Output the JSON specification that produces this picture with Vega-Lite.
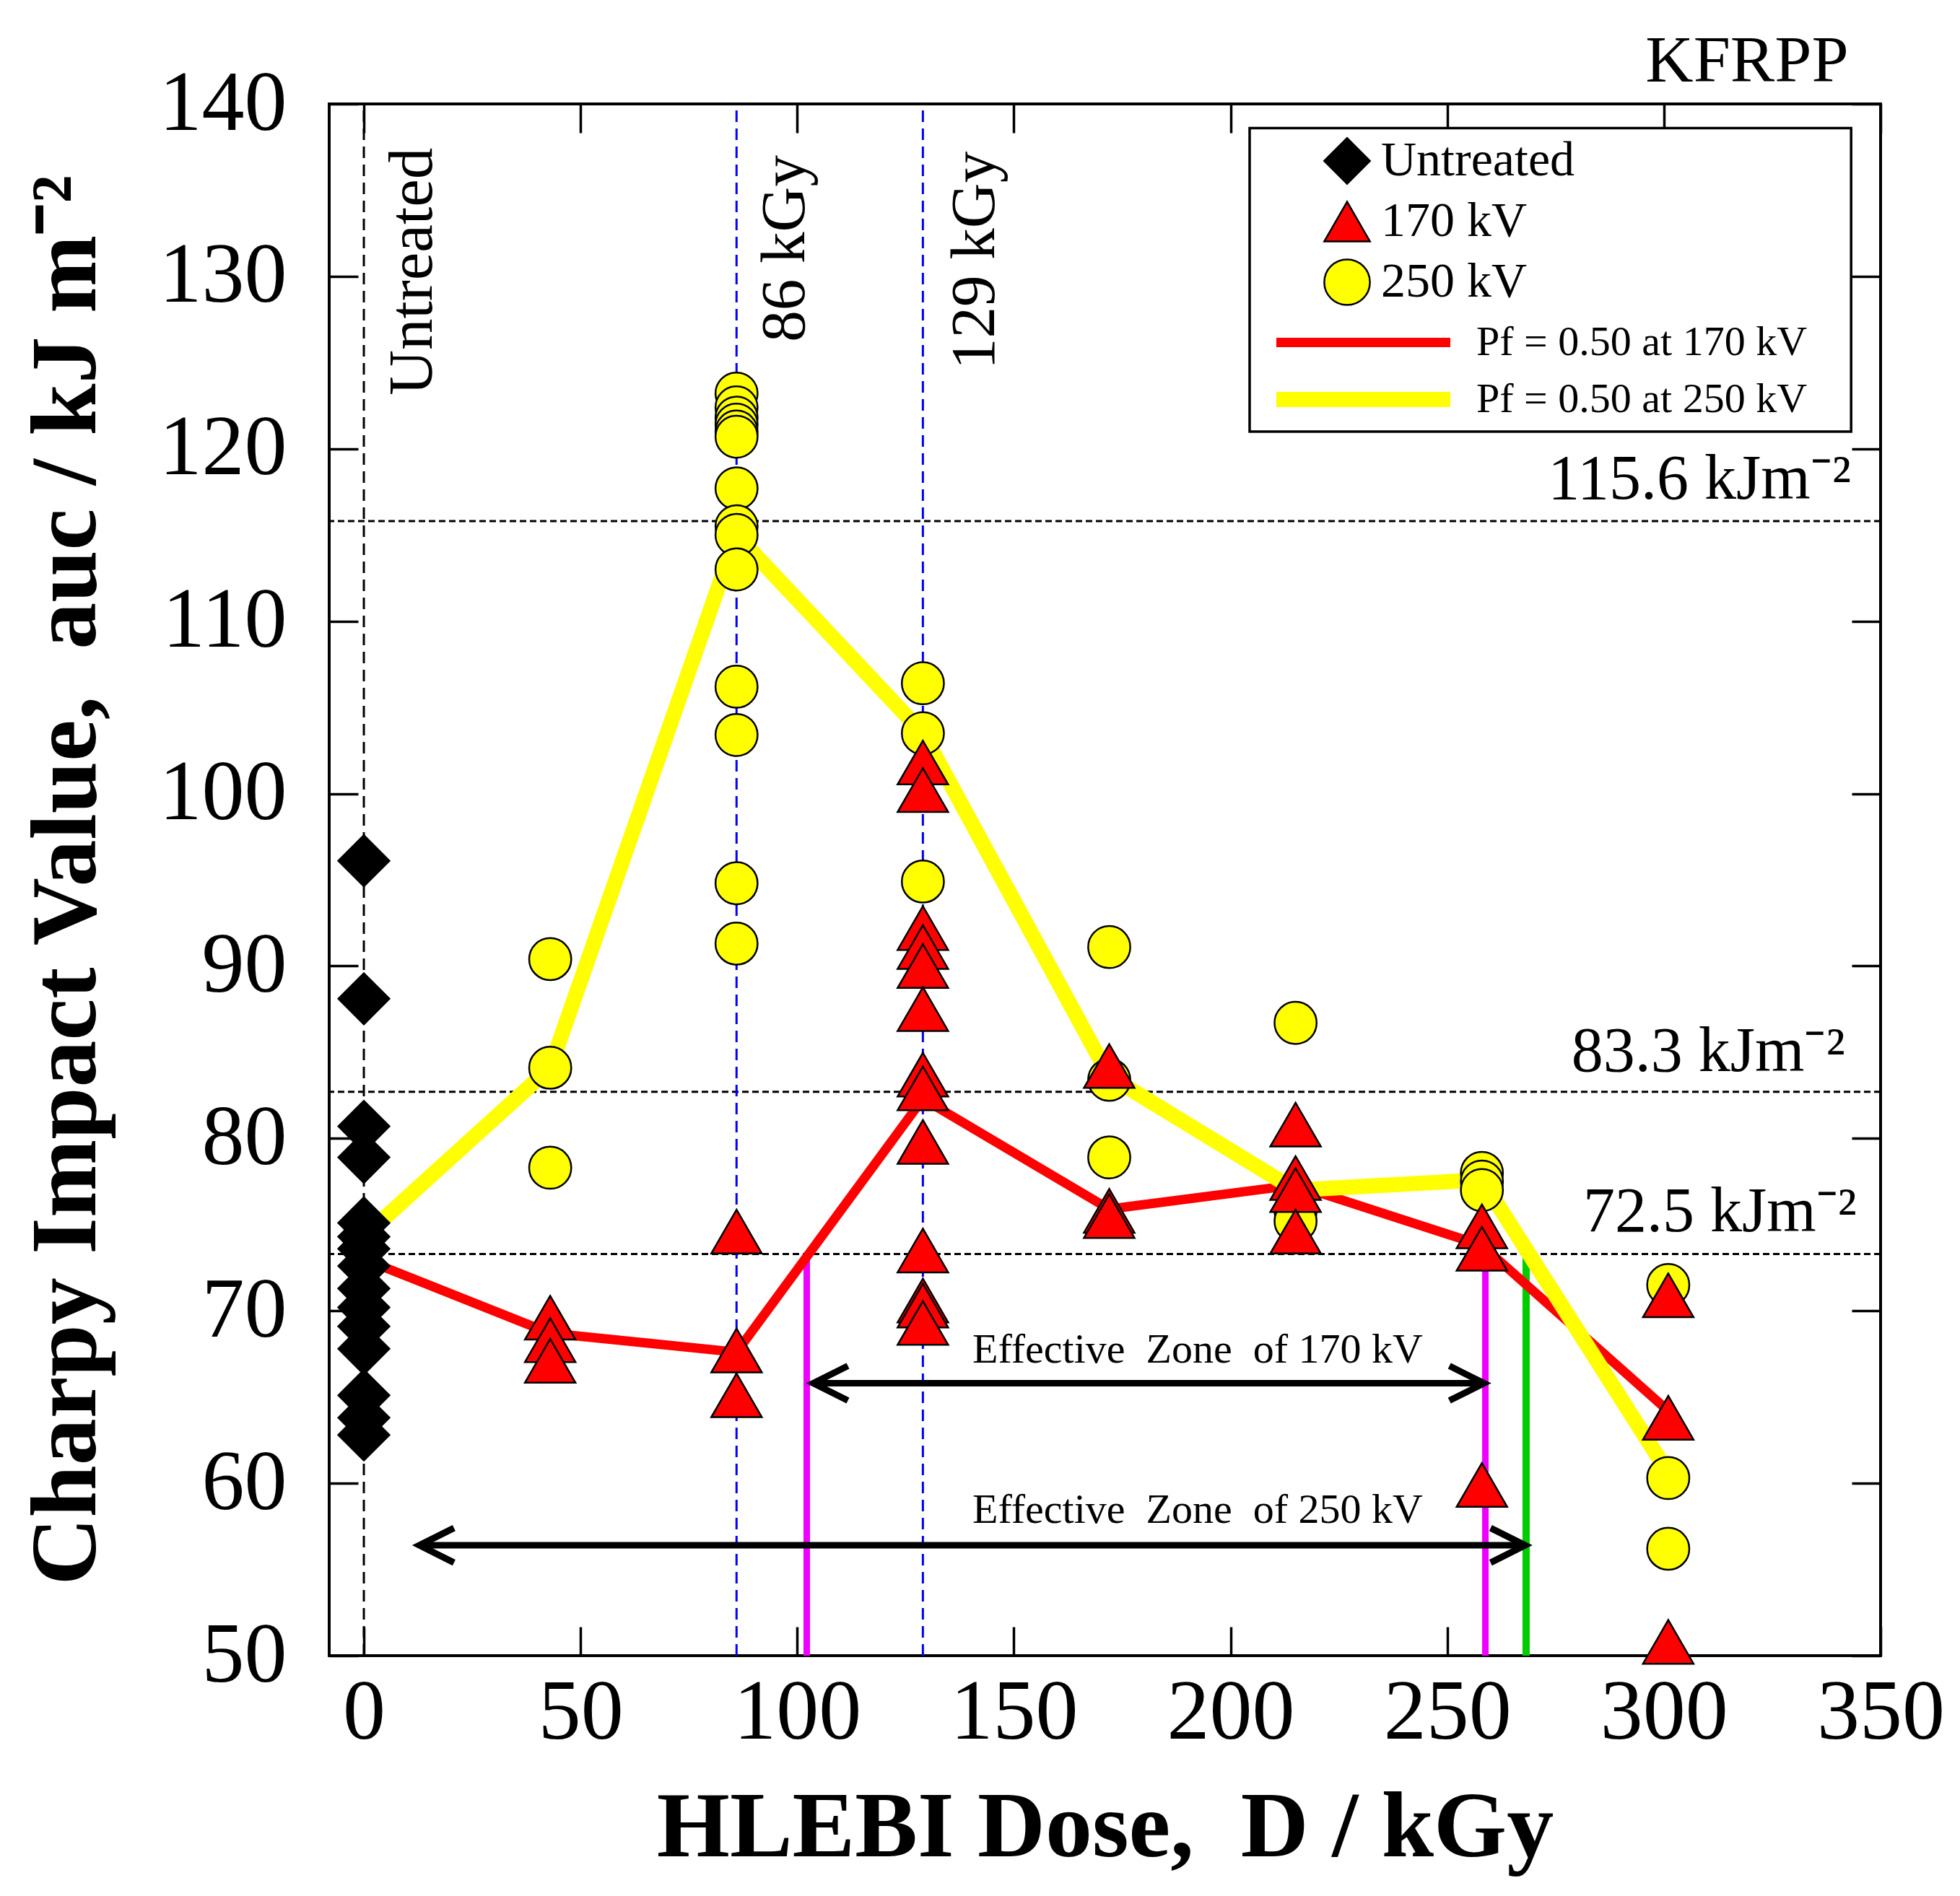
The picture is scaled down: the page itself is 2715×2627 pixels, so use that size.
{
  "$schema": "https://vega.github.io/schema/vega-lite/v6.json",
  "width": 2149,
  "height": 2150,
  "autosize": {"type": "none"},
  "padding": {"left": 456, "top": 144, "right": 110, "bottom": 333},
  "background": "white",
  "datasets": {
    "points": [
      {"dose": 0, "auc": 96.1, "series": "Untreated"},
      {"dose": 0, "auc": 88.1, "series": "Untreated"},
      {"dose": 0, "auc": 80.7, "series": "Untreated"},
      {"dose": 0, "auc": 78.9, "series": "Untreated"},
      {"dose": 0, "auc": 75.1, "series": "Untreated"},
      {"dose": 0, "auc": 74.3, "series": "Untreated"},
      {"dose": 0, "auc": 73.6, "series": "Untreated"},
      {"dose": 0, "auc": 72.6, "series": "Untreated"},
      {"dose": 0, "auc": 71.3, "series": "Untreated"},
      {"dose": 0, "auc": 70.2, "series": "Untreated"},
      {"dose": 0, "auc": 69.1, "series": "Untreated"},
      {"dose": 0, "auc": 67.8, "series": "Untreated"},
      {"dose": 0, "auc": 65.1, "series": "Untreated"},
      {"dose": 0, "auc": 63.8, "series": "Untreated"},
      {"dose": 0, "auc": 62.8, "series": "Untreated"},
      {"dose": 43, "auc": 90.4, "series": "250 kV"},
      {"dose": 43, "auc": 84.1, "series": "250 kV"},
      {"dose": 43, "auc": 78.3, "series": "250 kV"},
      {"dose": 86, "auc": 123.2, "series": "250 kV"},
      {"dose": 86, "auc": 122.4, "series": "250 kV"},
      {"dose": 86, "auc": 121.8, "series": "250 kV"},
      {"dose": 86, "auc": 121.4, "series": "250 kV"},
      {"dose": 86, "auc": 121.0, "series": "250 kV"},
      {"dose": 86, "auc": 120.7, "series": "250 kV"},
      {"dose": 86, "auc": 117.7, "series": "250 kV"},
      {"dose": 86, "auc": 115.5, "series": "250 kV"},
      {"dose": 86, "auc": 115.0, "series": "250 kV"},
      {"dose": 86, "auc": 113.0, "series": "250 kV"},
      {"dose": 86, "auc": 106.2, "series": "250 kV"},
      {"dose": 86, "auc": 103.4, "series": "250 kV"},
      {"dose": 86, "auc": 94.8, "series": "250 kV"},
      {"dose": 86, "auc": 91.3, "series": "250 kV"},
      {"dose": 129, "auc": 106.4, "series": "250 kV"},
      {"dose": 129, "auc": 103.5, "series": "250 kV"},
      {"dose": 129, "auc": 94.9, "series": "250 kV"},
      {"dose": 172, "auc": 91.1, "series": "250 kV"},
      {"dose": 172, "auc": 83.4, "series": "250 kV"},
      {"dose": 172, "auc": 78.9, "series": "250 kV"},
      {"dose": 215, "auc": 86.7, "series": "250 kV"},
      {"dose": 215, "auc": 75.8, "series": "250 kV"},
      {"dose": 215, "auc": 75.2, "series": "250 kV"},
      {"dose": 258, "auc": 78.0, "series": "250 kV"},
      {"dose": 258, "auc": 77.5, "series": "250 kV"},
      {"dose": 258, "auc": 77.0, "series": "250 kV"},
      {"dose": 301, "auc": 71.5, "series": "250 kV"},
      {"dose": 301, "auc": 60.3, "series": "250 kV"},
      {"dose": 301, "auc": 56.2, "series": "250 kV"},
      {"dose": 43, "auc": 69.6, "series": "170 kV"},
      {"dose": 43, "auc": 68.3, "series": "170 kV"},
      {"dose": 43, "auc": 67.1, "series": "170 kV"},
      {"dose": 86, "auc": 74.6, "series": "170 kV"},
      {"dose": 86, "auc": 67.7, "series": "170 kV"},
      {"dose": 86, "auc": 65.1, "series": "170 kV"},
      {"dose": 129, "auc": 101.8, "series": "170 kV"},
      {"dose": 129, "auc": 100.2, "series": "170 kV"},
      {"dose": 129, "auc": 92.2, "series": "170 kV"},
      {"dose": 129, "auc": 91.1, "series": "170 kV"},
      {"dose": 129, "auc": 90.0, "series": "170 kV"},
      {"dose": 129, "auc": 87.5, "series": "170 kV"},
      {"dose": 129, "auc": 83.7, "series": "170 kV"},
      {"dose": 129, "auc": 82.9, "series": "170 kV"},
      {"dose": 129, "auc": 79.8, "series": "170 kV"},
      {"dose": 129, "auc": 73.5, "series": "170 kV"},
      {"dose": 129, "auc": 70.6, "series": "170 kV"},
      {"dose": 129, "auc": 70.3, "series": "170 kV"},
      {"dose": 129, "auc": 69.3, "series": "170 kV"},
      {"dose": 172, "auc": 84.2, "series": "170 kV"},
      {"dose": 172, "auc": 75.8, "series": "170 kV"},
      {"dose": 172, "auc": 75.5, "series": "170 kV"},
      {"dose": 215, "auc": 80.8, "series": "170 kV"},
      {"dose": 215, "auc": 77.7, "series": "170 kV"},
      {"dose": 215, "auc": 77.0, "series": "170 kV"},
      {"dose": 215, "auc": 74.6, "series": "170 kV"},
      {"dose": 258, "auc": 74.9, "series": "170 kV"},
      {"dose": 258, "auc": 73.6, "series": "170 kV"},
      {"dose": 258, "auc": 59.9, "series": "170 kV"},
      {"dose": 301, "auc": 70.9, "series": "170 kV"},
      {"dose": 301, "auc": 63.8, "series": "170 kV"},
      {"dose": 301, "auc": 50.8, "series": "170 kV"}
    ],
    "lines": [
      {"dose": 0, "auc": 73.0, "series": "Pf = 0.50 at 170 kV"},
      {"dose": 43, "auc": 68.7, "series": "Pf = 0.50 at 170 kV"},
      {"dose": 86, "auc": 67.6, "series": "Pf = 0.50 at 170 kV"},
      {"dose": 129, "auc": 82.3, "series": "Pf = 0.50 at 170 kV"},
      {"dose": 172, "auc": 75.9, "series": "Pf = 0.50 at 170 kV"},
      {"dose": 215, "auc": 77.3, "series": "Pf = 0.50 at 170 kV"},
      {"dose": 258, "auc": 73.8, "series": "Pf = 0.50 at 170 kV"},
      {"dose": 301, "auc": 64.2, "series": "Pf = 0.50 at 170 kV"},
      {"dose": 0, "auc": 74.3, "series": "Pf = 0.50 at 250 kV"},
      {"dose": 43, "auc": 84.1, "series": "Pf = 0.50 at 250 kV"},
      {"dose": 86, "auc": 115.0, "series": "Pf = 0.50 at 250 kV"},
      {"dose": 129, "auc": 103.5, "series": "Pf = 0.50 at 250 kV"},
      {"dose": 172, "auc": 83.6, "series": "Pf = 0.50 at 250 kV"},
      {"dose": 215, "auc": 77.0, "series": "Pf = 0.50 at 250 kV"},
      {"dose": 258, "auc": 77.6, "series": "Pf = 0.50 at 250 kV"},
      {"dose": 301, "auc": 60.6, "series": "Pf = 0.50 at 250 kV"}
    ],
    "hrefs": [
      {"auc": 115.8, "text": "115.6 kJm⁻²", "dose": 343.2, "texty": 117.1},
      {"auc": 82.7, "text": "83.3 kJm⁻²", "dose": 341.8, "texty": 83.9},
      {"auc": 73.3, "text": "72.5 kJm⁻²", "dose": 344.5, "texty": 74.6}
    ],
    "vrefs": [
      {"dose": 0, "kind": "untreated", "text": "Untreated", "textx": 15.7, "texty": 123.1},
      {"dose": 86, "kind": "dose", "text": "86 kGy", "textx": 101.6, "texty": 126.2},
      {"dose": 129, "kind": "dose", "text": "129 kGy", "textx": 145.4, "texty": 124.6}
    ],
    "zones": [
      {"dose": 102.2, "zone": "170 kV"},
      {"dose": 258.8, "zone": "170 kV"},
      {"dose": 268.2, "zone": "250 kV"}
    ],
    "arrows": [
      {"zone": "170 kV", "from": 103.7, "to": 258.5, "auc": 65.8, "text": "Effective\u00a0\u00a0Zone\u00a0\u00a0of 170 kV", "textx": 192.4, "texty": 67.0},
      {"zone": "250 kV", "from": 12.8, "to": 268.0, "auc": 56.4, "text": "Effective\u00a0\u00a0Zone\u00a0\u00a0of 250 kV", "textx": 192.4, "texty": 57.7}
    ],
    "legendbox": [
      {"dose": 204.4, "dose2": 343.2, "auc": 121.0, "auc2": 138.6}
    ],
    "sample": [
      {"text": "KFRPP", "dose": 342.6, "auc": 141.3}
    ]
  },
  "resolve": {"axis": {"x": "independent", "y": "independent"}},
  "layer": [
    {
      "data": {"name": "hrefs"},
      "mark": {"type": "rule", "color": "black", "strokeWidth": 3, "strokeDash": [9, 5]},
      "encoding": {
        "y": {"field": "auc", "type": "quantitative", "axis": null}
      }
    },
    {
      "data": {"name": "vrefs"},
      "transform": [{"filter": "datum.kind === 'untreated'"}],
      "mark": {"type": "rule", "color": "black", "strokeWidth": 3, "strokeDash": [16, 9]},
      "encoding": {
        "x": {
          "field": "dose",
          "type": "quantitative",
          "axis": {
            "orient": "top",
            "values": [0, 50, 100, 150, 200, 250, 300, 350],
            "labels": false,
            "title": null,
            "domain": false,
            "grid": false,
            "tickSize": -40,
            "tickWidth": 3.5,
            "tickColor": "black"
          }
        },
        "y": {
          "datum": 50,
          "type": "quantitative",
          "axis": {
            "orient": "right",
            "values": [50, 60, 70, 80, 90, 100, 110, 120, 130, 140],
            "labels": false,
            "title": null,
            "domain": false,
            "grid": false,
            "tickSize": -40,
            "tickWidth": 3.5,
            "tickColor": "black"
          }
        },
        "y2": {"datum": 140}
      }
    },
    {
      "data": {"name": "vrefs"},
      "transform": [{"filter": "datum.kind === 'dose'"}],
      "mark": {"type": "rule", "color": "#0000FF", "strokeWidth": 3, "strokeDash": [16, 9]},
      "encoding": {
        "x": {"field": "dose", "type": "quantitative", "axis": null},
        "y": {"datum": 50, "type": "quantitative", "axis": null},
        "y2": {"datum": 140}
      }
    },
    {
      "data": {"name": "zones"},
      "transform": [{"filter": "datum.zone === '170 kV'"}],
      "mark": {"type": "rule", "color": "#EE00FF", "strokeWidth": 9},
      "encoding": {
        "x": {"field": "dose", "type": "quantitative", "axis": null},
        "y": {"datum": 50, "type": "quantitative", "axis": null},
        "y2": {"datum": 73.3}
      }
    },
    {
      "data": {"name": "zones"},
      "transform": [{"filter": "datum.zone === '250 kV'"}],
      "mark": {"type": "rule", "color": "#00CC00", "strokeWidth": 10},
      "encoding": {
        "x": {"field": "dose", "type": "quantitative", "axis": null},
        "y": {"datum": 50, "type": "quantitative", "axis": null},
        "y2": {"datum": 73.3}
      }
    },
    {
      "data": {"name": "arrows"},
      "mark": {"type": "rule", "color": "black", "strokeWidth": 9},
      "encoding": {
        "x": {"field": "from", "type": "quantitative", "axis": null},
        "x2": {"field": "to"},
        "y": {"field": "auc", "type": "quantitative", "axis": null}
      }
    },
    {
      "data": {"name": "arrows"},
      "mark": {"type": "point", "shape": "M 2 -1 L 0 0 L 2 1", "size": 2304, "filled": false, "stroke": "black", "strokeWidth": 9, "opacity": 1},
      "encoding": {
        "x": {"field": "from", "type": "quantitative", "axis": null},
        "y": {"field": "auc", "type": "quantitative", "axis": null}
      }
    },
    {
      "data": {"name": "arrows"},
      "mark": {"type": "point", "shape": "M -2 -1 L 0 0 L -2 1", "size": 2304, "filled": false, "stroke": "black", "strokeWidth": 9, "opacity": 1},
      "encoding": {
        "x": {"field": "to", "type": "quantitative", "axis": null},
        "y": {"field": "auc", "type": "quantitative", "axis": null}
      }
    },
    {
      "data": {"name": "lines"},
      "mark": {"type": "line", "strokeJoin": "miter"},
      "encoding": {
        "x": {"field": "dose", "type": "quantitative", "axis": null},
        "y": {"field": "auc", "type": "quantitative", "axis": null},
        "stroke": {
          "field": "series",
          "type": "nominal",
          "scale": {
            "domain": ["Pf = 0.50 at 170 kV", "Pf = 0.50 at 250 kV"],
            "range": ["#FF0000", "#FFFF00"]
          },
          "legend": {
            "title": null,
            "orient": "none",
            "legendX": 1397,
            "legendY": 299,
            "padding": 0,
            "symbolType": "M -4.82 0 L 4.82 0",
            "symbolSize": 2500,
            "labelFont": "Liberation Serif",
            "labelFontSize": 58,
            "labelColor": "black",
            "labelOffset": 121,
            "labelLimit": 0,
            "rowPadding": 7
          }
        },
        "strokeWidth": {
          "field": "series",
          "type": "nominal",
          "scale": {
            "type": "ordinal",
            "domain": ["Pf = 0.50 at 170 kV", "Pf = 0.50 at 250 kV"],
            "range": [13, 21]
          }
        }
      }
    },
    {
      "data": {"name": "points"},
      "transform": [{"filter": "datum.series === 'Untreated'"}],
      "mark": {"type": "point", "filled": true, "opacity": 1, "size": 5000, "stroke": "black", "strokeWidth": 2.5},
      "encoding": {
        "x": {
          "field": "dose",
          "type": "quantitative",
          "scale": {"domain": [-8, 350], "nice": false, "zero": false},
          "axis": {
            "orient": "bottom",
            "values": [0, 50, 100, 150, 200, 250, 300, 350],
            "title": "HLEBI Dose,\u00a0\u00a0D / kGy",
            "titleFont": "Liberation Serif",
            "titleFontSize": 130,
            "titleFontWeight": "bold",
            "titleColor": "black",
            "titlePadding": 36,
            "labelFont": "Liberation Serif",
            "labelFontSize": 118,
            "labelColor": "black",
            "labelPadding": 61,
            "labelFlush": false,
            "labelOverlap": false,
            "domain": false,
            "grid": false,
            "tickSize": -40,
            "tickWidth": 3.5,
            "tickColor": "black"
          }
        },
        "y": {
          "field": "auc",
          "type": "quantitative",
          "scale": {"domain": [50, 140], "nice": false, "zero": false},
          "axis": {
            "orient": "left",
            "values": [50, 60, 70, 80, 90, 100, 110, 120, 130, 140],
            "title": "Charpy Impact Value,\u00a0\u00a0auc / kJ m⁻²",
            "titleFont": "Liberation Serif",
            "titleFontSize": 130,
            "titleFontWeight": "bold",
            "titleColor": "black",
            "titlePadding": 98,
            "labelFont": "Liberation Serif",
            "labelFontSize": 118,
            "labelColor": "black",
            "labelPadding": 99,
            "labelFlush": false,
            "labelOverlap": false,
            "domain": false,
            "grid": false,
            "tickSize": -40,
            "tickWidth": 3.5,
            "tickColor": "black"
          }
        },
        "fill": {
          "field": "series",
          "type": "nominal",
          "scale": {
            "domain": ["Untreated", "170 kV", "250 kV"],
            "range": ["black", "#FF0000", "#FFFF00"]
          },
          "legend": {
            "title": null,
            "orient": "none",
            "legendX": 1376,
            "legendY": 45,
            "padding": 0,
            "symbolSize": 4000,
            "symbolStrokeColor": "black",
            "symbolStrokeWidth": 2.5,
            "labelFont": "Liberation Serif",
            "labelFontSize": 68,
            "labelColor": "black",
            "labelOffset": 13,
            "labelLimit": 0,
            "rowPadding": 13
          }
        },
        "shape": {
          "field": "series",
          "type": "nominal",
          "scale": {
            "domain": ["Untreated", "170 kV", "250 kV"],
            "range": ["diamond", "triangle-up", "circle"]
          }
        }
      }
    },
    {
      "data": {"name": "points"},
      "transform": [{"filter": "datum.series === '250 kV'"}],
      "mark": {"type": "point", "filled": true, "opacity": 1, "size": 3400, "stroke": "black", "strokeWidth": 2.5},
      "encoding": {
        "x": {"field": "dose", "type": "quantitative", "axis": null},
        "y": {"field": "auc", "type": "quantitative", "axis": null},
        "fill": {"field": "series", "type": "nominal"},
        "shape": {"field": "series", "type": "nominal"}
      }
    },
    {
      "data": {"name": "points"},
      "transform": [{"filter": "datum.series === '170 kV'"}],
      "mark": {"type": "point", "filled": true, "opacity": 1, "size": 4900, "stroke": "black", "strokeWidth": 2.5},
      "encoding": {
        "x": {"field": "dose", "type": "quantitative", "axis": null},
        "y": {"field": "auc", "type": "quantitative", "axis": null},
        "fill": {"field": "series", "type": "nominal"},
        "shape": {"field": "series", "type": "nominal"}
      }
    },
    {
      "data": {"name": "legendbox"},
      "mark": {"type": "rect", "fill": "white", "stroke": "black", "strokeWidth": 3.5},
      "encoding": {
        "x": {"field": "dose", "type": "quantitative", "axis": null},
        "x2": {"field": "dose2"},
        "y": {"field": "auc", "type": "quantitative", "axis": null},
        "y2": {"field": "auc2"}
      }
    },
    {
      "data": {"name": "hrefs"},
      "mark": {"type": "text", "align": "right", "baseline": "alphabetic", "font": "Liberation Serif", "fontSize": 88, "color": "black"},
      "encoding": {
        "x": {"field": "dose", "type": "quantitative", "axis": null},
        "y": {"field": "texty", "type": "quantitative", "axis": null},
        "text": {"field": "text"}
      }
    },
    {
      "data": {"name": "vrefs"},
      "mark": {"type": "text", "angle": 270, "align": "left", "baseline": "alphabetic", "font": "Liberation Serif", "fontSize": 87, "color": "black"},
      "encoding": {
        "x": {"field": "textx", "type": "quantitative", "axis": null},
        "y": {"field": "texty", "type": "quantitative", "axis": null},
        "text": {"field": "text"}
      }
    },
    {
      "data": {"name": "arrows"},
      "mark": {"type": "text", "align": "center", "baseline": "alphabetic", "font": "Liberation Serif", "fontSize": 58, "color": "black"},
      "encoding": {
        "x": {"field": "textx", "type": "quantitative", "axis": null},
        "y": {"field": "texty", "type": "quantitative", "axis": null},
        "text": {"field": "text"}
      }
    },
    {
      "data": {"name": "sample"},
      "mark": {"type": "text", "align": "right", "baseline": "alphabetic", "font": "Liberation Serif", "fontSize": 92, "color": "black"},
      "encoding": {
        "x": {"field": "dose", "type": "quantitative", "axis": null},
        "y": {"field": "auc", "type": "quantitative", "axis": null},
        "text": {"field": "text"}
      }
    }
  ],
  "config": {
    "view": {"stroke": "black", "strokeWidth": 4},
    "axis": {"grid": false}
  }
}
